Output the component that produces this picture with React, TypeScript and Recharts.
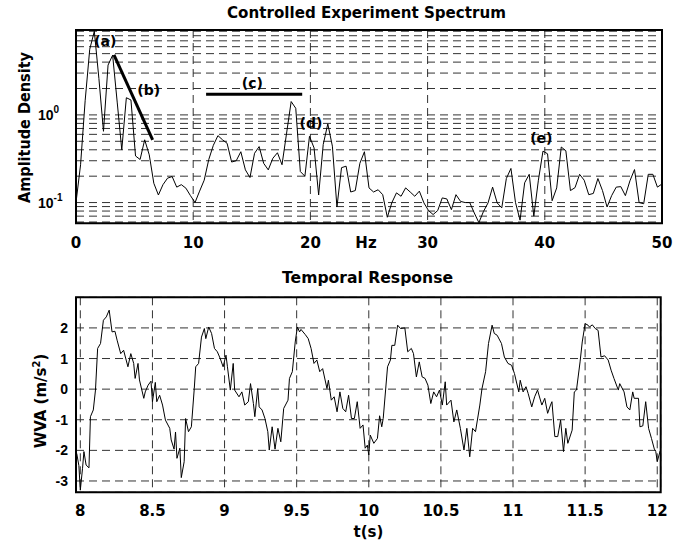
import React from "react";
import {
  LineChart,
  Line,
  XAxis,
  YAxis,
  CartesianGrid,
  ReferenceLine,
  ReferenceDot,
  ReferenceArea,
} from "recharts";

// spectrum: one value per FFT bin (50 Hz / 128 bins)
const specAmp = [
  0.1, 0.27, 1.45, 5.6, 9.0, 2.6, 0.65, 3.7, 4.8, 1.4,
  0.4, 1.57, 1.48, 0.34, 0.31, 0.52, 0.35, 0.166, 0.122, 0.16,
  0.19, 0.198, 0.15, 0.16, 0.146, 0.12, 0.1, 0.135, 0.18, 0.31,
  0.45, 0.58, 0.52, 0.475, 0.29, 0.3, 0.38, 0.236, 0.193, 0.365,
  0.435, 0.28, 0.236, 0.32, 0.37, 0.27, 0.62, 1.42, 1.19, 0.226,
  0.2, 0.57, 0.42, 0.122, 0.46, 0.79, 0.44, 0.089, 0.25, 0.26,
  0.132, 0.137, 0.28, 0.38, 0.147, 0.132, 0.14, 0.123, 0.068, 0.1,
  0.129, 0.118, 0.147, 0.132, 0.118, 0.135, 0.099, 0.081, 0.073, 0.081,
  0.113, 0.11, 0.083, 0.123, 0.103, 0.1, 0.1, 0.076, 0.059, 0.079,
  0.099, 0.15, 0.099, 0.087, 0.188, 0.245, 0.1, 0.063, 0.168, 0.21,
  0.07, 0.18, 0.386, 0.36, 0.105, 0.147, 0.43, 0.39, 0.137, 0.148,
  0.21, 0.18, 0.123, 0.127, 0.188, 0.137, 0.089, 0.12, 0.15, 0.152,
  0.12, 0.177, 0.238, 0.1, 0.097, 0.21, 0.21, 0.15, 0.163,
];
const binHz = 50 / 128;
const hzTicks = [0, 10, 20, 30, 40, 50];
const logTicks = [
  0.06, 0.07, 0.08, 0.09, 0.1, 0.2, 0.3, 0.4, 0.5, 0.6, 0.7, 0.8, 0.9,
  1, 2, 3, 4, 5, 6, 7, 8, 9,
];

// annotation lines (b) and (c), and the letter labels
const slopeB = [
  { x: 3.24, y: 4.83 },
  { x: 6.54, y: 0.52 },
];
const flatC = [
  { x: 11.1, y: 1.72 },
  { x: 19.3, y: 1.72 },
];
const notes = [
  { text: "(a)", x: 2.5, y: 7.0 },
  { text: "(b)", x: 6.2, y: 1.93 },
  { text: "(c)", x: 15.05, y: 2.32 },
  { text: "(d)", x: 20.05, y: 0.8 },
  { text: "(e)", x: 39.7, y: 0.547 },
];

// temporal response
const tSec = [
  7.975, 7.99, 8.0, 8.015, 8.025, 8.04, 8.06, 8.07, 8.09, 8.105,
  8.12, 8.14, 8.16, 8.18, 8.2, 8.22, 8.24, 8.255, 8.28, 8.3,
  8.33, 8.35, 8.37, 8.38, 8.4, 8.41, 8.44, 8.45, 8.47, 8.49,
  8.5, 8.52, 8.53, 8.55, 8.57, 8.59, 8.62, 8.63, 8.65, 8.66,
  8.67, 8.69, 8.7, 8.72, 8.73, 8.75, 8.77, 8.79, 8.8, 8.82,
  8.84, 8.86, 8.87, 8.89, 8.91, 8.93, 8.95, 8.97, 8.99, 9.01,
  9.02, 9.04, 9.06, 9.07, 9.1, 9.12, 9.14, 9.165, 9.18, 9.2,
  9.21, 9.23, 9.24, 9.26, 9.28, 9.3, 9.31, 9.33, 9.35, 9.37,
  9.39, 9.41, 9.44, 9.45, 9.47, 9.49, 9.505, 9.52, 9.53, 9.56,
  9.58, 9.6, 9.62, 9.64, 9.66, 9.68, 9.71, 9.72, 9.74, 9.76,
  9.78, 9.8, 9.82, 9.84, 9.86, 9.88, 9.9, 9.92, 9.94, 9.96,
  9.975, 9.99, 10.0, 10.01, 10.035, 10.06, 10.075, 10.09, 10.1, 10.13,
  10.15, 10.16, 10.18, 10.2, 10.22, 10.25, 10.27, 10.295, 10.31, 10.33,
  10.35, 10.37, 10.39, 10.41, 10.43, 10.45, 10.47, 10.49, 10.51, 10.53,
  10.54, 10.57, 10.59, 10.61, 10.635, 10.66, 10.68, 10.7, 10.72, 10.74,
  10.77, 10.785, 10.81, 10.83, 10.855, 10.87, 10.89, 10.92, 10.94, 10.965,
  10.99, 11.01, 11.04, 11.05, 11.07, 11.09, 11.105, 11.13, 11.15, 11.17,
  11.2, 11.22, 11.24, 11.26, 11.27, 11.29, 11.31, 11.33, 11.35, 11.366,
  11.38, 11.41, 11.425, 11.44, 11.465, 11.48, 11.5, 11.52, 11.53, 11.55,
  11.57, 11.59, 11.61, 11.635, 11.66, 11.68, 11.7, 11.73, 11.74, 11.77,
  11.79, 11.81, 11.83, 11.84, 11.87, 11.88, 11.9, 11.92, 11.94, 11.96,
  11.98, 11.99, 12.0, 12.02,
];
const wva = [
  -2.1, -2.5, -3.3, -2.6, -2.04, -2.48, -2.57, -0.9, -0.68, -0.03,
  1.33, 1.49, 2.25, 2.36, 2.58, 1.87, 1.89, 1.6, 1.16, 1.27,
  0.73, 1.16, 0.84, 0.35, 0.84, 0.3, -0.3, -0.09, 0.13, 0.26,
  -0.41, 0.22, -0.41, -0.2, -0.52, -1.01, -1.28, -1.66, -1.96, -1.4,
  -2.26, -1.93, -2.89, -2.37, -0.96, -1.39, -1.23, 0.02, 0.73, 0.84,
  1.7, 1.98, 1.65, 2.03, 1.82, 1.33, 1.22, 1.0, 0.73, 1.11,
  0.73, -0.03, 0.84, -0.03, -0.25, -0.09, -0.52, -0.41, 0.18, -0.47,
  -0.9, 0.02, -0.58, -0.68, -0.96, -1.39, -1.99, -1.23, -1.96, -1.28,
  -1.72, -0.63, -0.36, 0.35, 0.57, 1.54, 2.03, 1.87, 1.95, 1.78,
  1.65, 1.33, 0.84, 0.95, 0.57, 0.67, 0.02, 0.29, -0.36, -0.25,
  -0.74, -0.09, -0.63, -0.74, -0.2, -0.96, -0.96, -0.41, -1.28, -1.17,
  -1.93, -1.83, -2.15, -1.5, -1.77, -1.61, -0.87, -1.23, -0.96, 0.73,
  0.95, 1.43, 1.43, 2.09, 1.98, 2.0, 1.22, 1.33, 1.16, 0.4,
  0.89, 0.4, 0.35, 0.13, -0.47, -0.09, -0.25, -0.03, -0.52, 0.24,
  -0.52, -0.36, -1.07, -0.68, -1.28, -1.99, -1.28, -2.21, -1.28, -1.39,
  -0.52, 0.02, 0.57, 1.49, 2.09, 1.82, 1.76, 1.49, 1.05, 0.84,
  0.78, 0.51, -0.09, 0.29, -0.09, 0.08, -0.14, -0.58, -0.25, -0.03,
  -0.52, -0.3, -0.79, -0.52, -0.41, -1.55, -1.55, -1.01, -2.04, -1.28,
  -1.77, -1.34, -0.09, -0.03, 0.89, 1.54, 2.14, 2.09, 2.03, 2.1,
  1.98, 1.92, 1.05, 1.09, 0.95, 0.62, 0.35, -0.03, 0.18, -0.09,
  -0.58, -0.68, -0.09, -0.3, -0.3, -1.23, -1.2, -0.41, -1.28, -1.61,
  -1.96, -2.04, -2.37, -2.02,
];
const tTicks = [8, 8.5, 9, 9.5, 10, 10.5, 11, 11.5, 12];
const wvaTicks = [-3, -2, -1, 0, 1, 2];

// wide bold face for titles, x ticks and axis names; narrower one for y ticks
const WIDE = "'DejaVu Sans', sans-serif";
const NARROW = "'Liberation Sans', Arial, sans-serif";
const txt = { fontFamily: WIDE, fontWeight: "bold" as const, fontSize: 15, fill: "#000" };
const ytxt = { fontFamily: NARROW, fontWeight: "bold" as const, fontSize: 14, fill: "#000" };

const specData = specAmp.map((a, i) => ({ f: i * binHz, a }));
const timeData = tSec.map((t, i) => ({ t, v: wva[i] }));

function HzTick({ x, payload }: any) {
  return (
    <text x={x} y={248} textAnchor="middle" {...txt}>
      {payload.value}
    </text>
  );
}

function LogTick({ y, payload }: any) {
  const v = payload.value;
  if (v !== 0.1 && v !== 1) return <g />;
  return (
    <text x={38} y={y + 5} {...ytxt}>
      10
      <tspan dy={-7} fontSize={10}>
        {v === 1 ? "0" : "-1"}
      </tspan>
    </text>
  );
}

function TimeTick({ x, payload }: any) {
  return (
    <text x={x} y={256} textAnchor="middle" {...txt}>
      {payload.value}
    </text>
  );
}

function WvaTick({ y, payload }: any) {
  return (
    <text x={68} y={y + 5} textAnchor="end" {...ytxt}>
      {payload.value}
    </text>
  );
}

const gridStyle = { stroke: "#333", strokeDasharray: "8 5" };

export default function App() {
  return (
    <div style={{ position: "absolute", left: 0, top: 0, width: 693, height: 544, background: "#fff" }}>
      <div style={{ position: "absolute", left: 0, top: 0 }}>
        <LineChart width={693} height={260} data={specData} margin={{ top: 30, right: 31, left: 0, bottom: 0 }}>
          <CartesianGrid {...gridStyle} />
          <XAxis
            dataKey="f"
            type="number"
            domain={[0, 50]}
            ticks={hzTicks}
            interval={0}
            allowDataOverflow
            height={36.7}
            axisLine={false}
            tickLine={false}
            tick={<HzTick />}
          />
          <YAxis
            type="number"
            scale="log"
            domain={[0.058, 9.3]}
            ticks={logTicks}
            interval={0}
            allowDataOverflow
            width={76}
            axisLine={false}
            tickLine={false}
            tick={<LogTick />}
          />
          <Line type="linear" dataKey="a" stroke="#000" strokeWidth={1} dot={false} isAnimationActive={false} />
          <ReferenceLine segment={slopeB} stroke="#000" strokeWidth={3} ifOverflow="visible" />
          <ReferenceLine segment={flatC} stroke="#000" strokeWidth={3} ifOverflow="visible" />
          {notes.map((n) => (
            <ReferenceDot
              key={n.text}
              x={n.x}
              y={n.y}
              r={0}
              fill="none"
              stroke="none"
              ifOverflow="visible"
              label={{ value: n.text, position: "center", ...txt, fontSize: 14 }}
            />
          ))}
          <ReferenceArea x1={0} x2={50} y1={0.058} y2={9.3} fill="none" stroke="#000" strokeWidth={2} ifOverflow="visible" />
        </LineChart>
      </div>

      <div style={{ position: "absolute", left: 0, top: 260 }}>
        <LineChart width={693} height={284} data={timeData} margin={{ top: 37.3, right: 32.3, left: 0, bottom: 0 }}>
          <CartesianGrid {...gridStyle} />
          <XAxis
            dataKey="t"
            type="number"
            domain={[7.97, 12.024]}
            ticks={tTicks}
            interval={0}
            allowDataOverflow
            height={51.7}
            axisLine={false}
            tickLine={false}
            tick={<TimeTick />}
          />
          <YAxis
            type="number"
            domain={[-3.37, 3]}
            ticks={wvaTicks}
            interval={0}
            allowDataOverflow
            width={76}
            axisLine={false}
            tickLine={false}
            tick={<WvaTick />}
          />
          <Line type="linear" dataKey="v" stroke="#000" strokeWidth={1} dot={false} isAnimationActive={false} />
          <ReferenceArea x1={7.97} x2={12.024} y1={-3.37} y2={3} fill="none" stroke="#000" strokeWidth={2} ifOverflow="visible" />
        </LineChart>
      </div>

      <svg width={693} height={544} style={{ position: "absolute", left: 0, top: 0, pointerEvents: "none" }}>
        <text x={366.5} y={18} textAnchor="middle" textLength={279} lengthAdjust="spacingAndGlyphs" {...txt}>
          Controlled Experiment Spectrum
        </text>
        <text x={366} y={248} textAnchor="middle" {...txt}>
          Hz
        </text>
        <text x={30} y={127.5} textAnchor="middle" transform="rotate(-90 30 127.5)" textLength={151} lengthAdjust="spacingAndGlyphs" {...txt}>
          Amplitude Density
        </text>
        <text x={367.5} y={282.5} textAnchor="middle" textLength={171} lengthAdjust="spacingAndGlyphs" {...txt}>
          Temporal Response
        </text>
        <text x={46} y={401} textAnchor="middle" transform="rotate(-90 46 401)" {...txt}>
          WVA (m/s<tspan dy={-6} fontSize={10}>2</tspan>
          <tspan dy={6}>)</tspan>
        </text>
        <text x={368.5} y={537} textAnchor="middle" {...txt}>
          t(s)
        </text>
      </svg>
    </div>
  );
}
